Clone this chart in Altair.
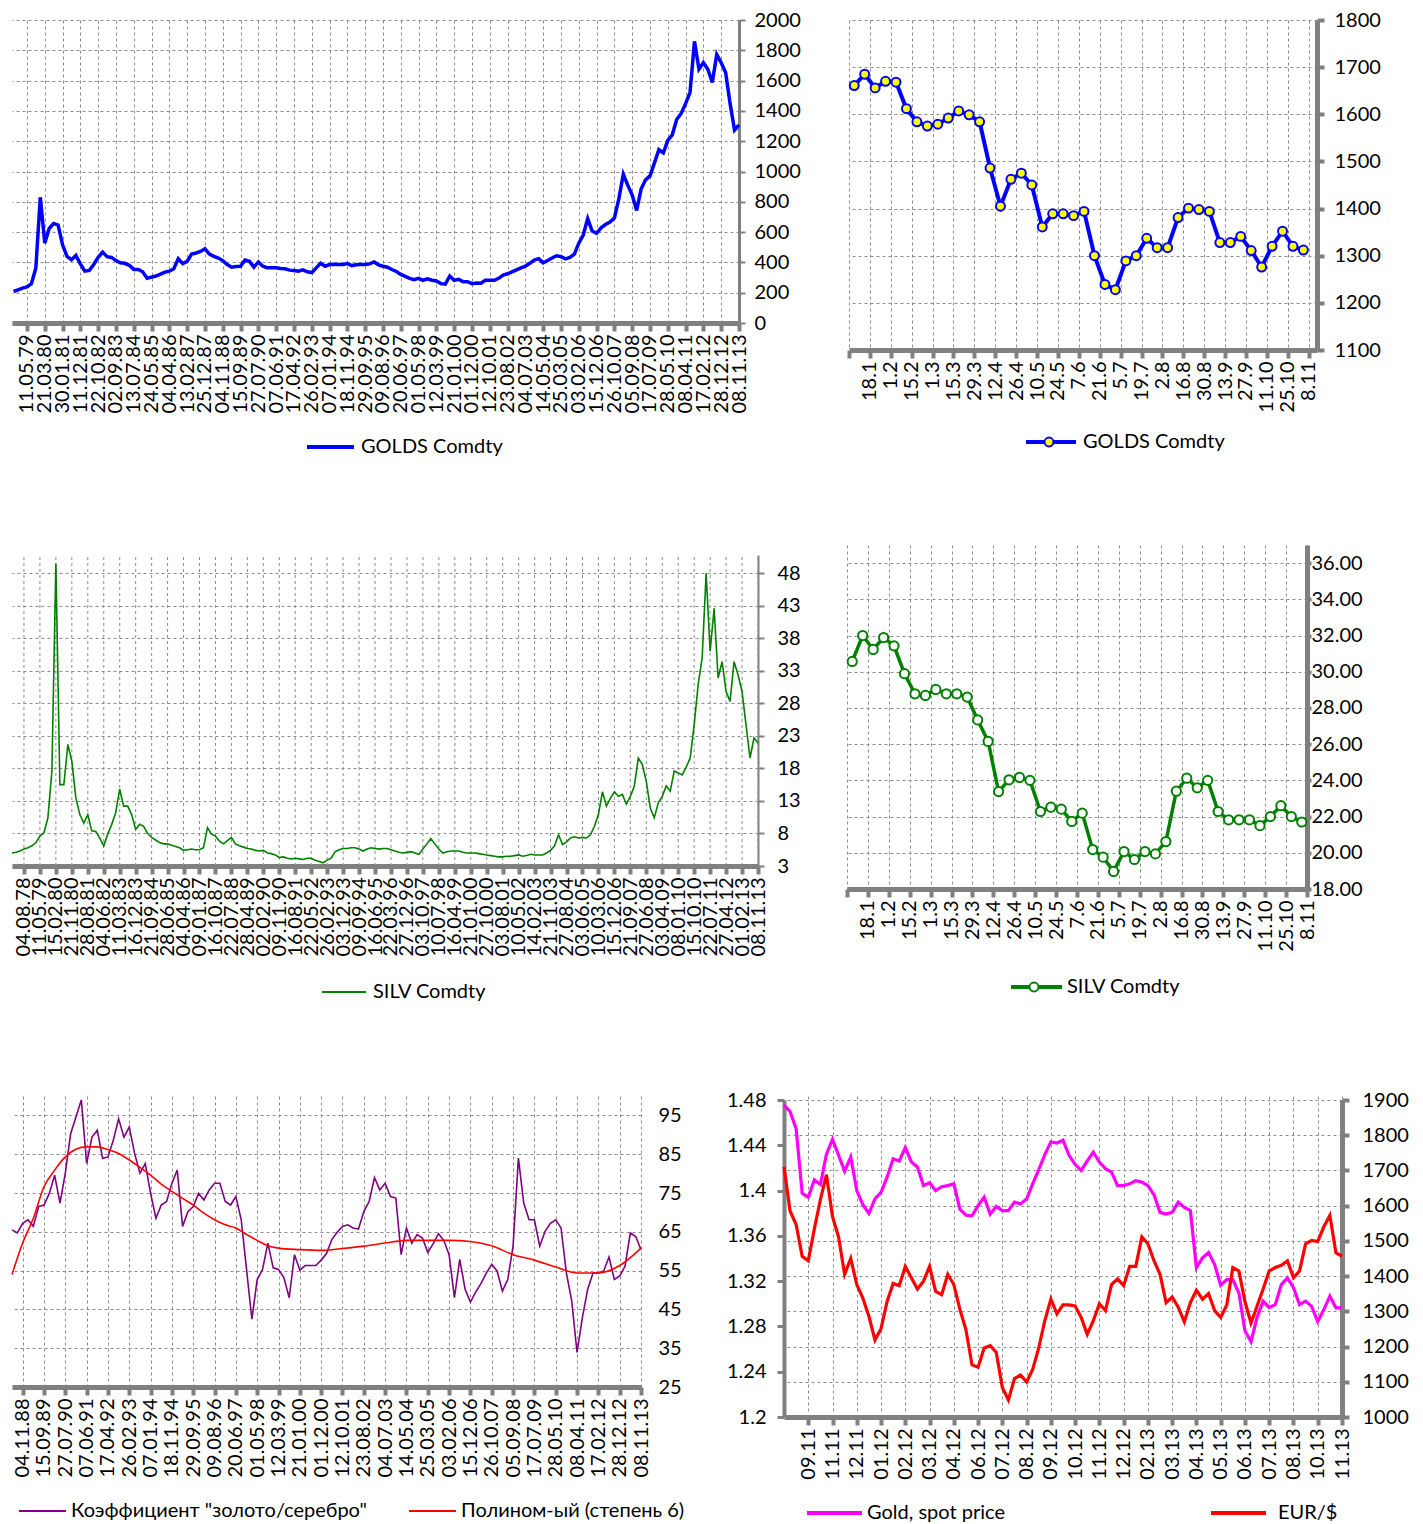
import json
import altair as alt
import numpy as np
import pandas as pd

FONT = "Lato"
AXIS_GRAY = "#808080"
GRID_GRAY = "#8c8c8c"
FS = 20

# ------------------------------------------------------------------ data
GOLD_LABELS = ["11.05.79", "21.03.80", "30.01.81", "11.12.81", "22.10.82", "02.09.83", "13.07.84",
               "24.05.85", "04.04.86", "13.02.87", "25.12.87", "04.11.88", "15.09.89", "27.07.90",
               "07.06.91", "17.04.92", "26.02.93", "07.01.94", "18.11.94", "29.09.95", "09.08.96",
               "20.06.97", "01.05.98", "12.03.99", "21.01.00", "01.12.00", "12.10.01", "23.08.02",
               "04.07.03", "14.05.04", "25.03.05", "03.02.06", "15.12.06", "26.10.07", "05.09.08",
               "17.07.09", "28.05.10", "08.04.11", "17.02.12", "28.12.12", "08.11.13"]
GOLD_START, GOLD_STEP = -0.75, 0.25
GOLD_VALUES = [208, 219, 230, 238, 260, 364, 830, 527, 624, 657, 646, 516, 440, 418, 446, 390, 342, 347,
               386, 433, 468, 438, 433, 412, 397, 394, 381, 353, 353, 338, 295, 303, 310, 323, 336, 342,
               358, 425, 392, 407, 455, 462, 472, 490, 455, 440, 429, 412, 386, 368, 373, 375, 416, 407,
               368, 403, 375, 364, 364, 364, 360, 358, 349, 347, 342, 351, 338, 332, 364, 394, 375, 386,
               388, 386, 386, 392, 379, 384, 386, 386, 390, 403, 384, 375, 368, 353, 340, 321, 308, 295,
               286, 295, 282, 292, 282, 277, 260, 256, 310, 282, 288, 273, 273, 260, 264, 262, 282, 282,
               282, 295, 316, 325, 338, 351, 364, 375, 394, 416, 425, 397, 412, 429, 444, 438, 423, 433,
               455, 527, 581, 689, 607, 592, 628, 650, 667, 693, 819, 982, 910, 845, 743, 884, 945, 971,
               1057, 1144, 1122, 1205, 1242, 1343, 1383, 1448, 1523, 1859, 1675, 1718, 1675, 1588, 1773,
               1718, 1653, 1448, 1274, 1307]

WEEK_LABELS = ["18.1", "1.2", "15.2", "1.3", "15.3", "29.3", "12.4", "26.4", "10.5", "24.5", "7.6",
               "21.6", "5.7", "19.7", "2.8", "16.8", "30.8", "13.9", "27.9", "11.10", "25.10", "8.11"]
GOLD_2013 = [1661, 1685, 1656, 1670, 1668, 1612, 1584, 1575, 1579, 1592, 1607, 1599, 1584, 1486, 1405,
             1462, 1475, 1450, 1361, 1389, 1389, 1385, 1394, 1300, 1239, 1228, 1289, 1300, 1337, 1317,
             1317, 1381, 1401, 1398, 1394, 1328, 1328, 1341, 1311, 1276, 1320, 1352, 1320, 1312]
SILV_2013 = [30.57, 32.0, 31.23, 31.89, 31.43, 29.89, 28.78, 28.69, 29.02, 28.78, 28.78, 28.60, 27.34,
             26.15, 23.38, 24.03, 24.16, 24.0, 22.28, 22.52, 22.41, 21.73, 22.19, 20.18, 19.76, 18.97,
             20.07, 19.63, 20.07, 19.94, 20.62, 23.40, 24.12, 23.59, 24.0, 22.28, 21.82, 21.82, 21.82,
             21.5, 22.0, 22.6, 22.0, 21.7]

SILV_LABELS = ["04.08.78", "11.05.79", "15.02.80", "21.11.80", "28.08.81", "04.06.82", "11.03.83",
               "16.12.83", "21.09.84", "28.06.85", "04.04.86", "09.01.87", "16.10.87", "22.07.88",
               "28.04.89", "02.02.90", "09.11.90", "16.08.91", "22.05.92", "26.02.93", "03.12.93",
               "09.09.94", "16.06.95", "22.03.96", "27.12.96", "03.10.97", "10.07.98", "16.04.99",
               "21.01.00", "27.10.00", "03.08.01", "10.05.02", "14.02.03", "21.11.03", "27.08.04",
               "03.06.05", "10.03.06", "15.12.06", "21.09.07", "27.06.08", "03.04.09", "08.01.10",
               "15.10.10", "22.07.11", "27.04.12", "01.02.13", "08.11.13"]
SILV_START, SILV_STEP = -0.75, 0.25
SILV_VALUES = [5.0, 5.1, 5.3, 5.6, 5.8, 6.1, 6.6, 7.6, 8.1, 10.4, 17.6, 49.5, 15.5, 15.5, 21.7, 19.1,
               13.5, 10.9, 9.6, 10.9, 8.4, 8.3, 7.3, 6.1, 7.9, 9.4, 11.2, 14.8, 12.2, 12.2, 10.9, 8.6,
               9.4, 9.1, 8.0, 7.4, 7.0, 6.6, 6.4, 6.4, 6.2, 6.0, 5.8, 5.4, 5.5, 5.6, 5.5, 5.5, 5.8, 8.9,
               7.9, 7.6, 6.8, 6.4, 6.9, 7.4, 6.4, 6.1, 5.9, 5.7, 5.6, 5.4, 5.3, 5.4, 5.0, 4.9, 4.7, 4.3,
               4.4, 4.2, 4.1, 4.2, 4.1, 4.0, 4.2, 4.2, 3.9, 3.7, 3.5, 3.9, 4.2, 5.2, 5.5, 5.7, 5.7, 5.8,
               5.8, 5.6, 5.3, 5.6, 5.8, 5.7, 5.6, 5.7, 5.7, 5.5, 5.3, 5.1, 5.0, 5.1, 5.2, 5.0, 4.8, 5.6,
               6.4, 7.2, 6.4, 5.6, 5.0, 5.2, 5.3, 5.3, 5.3, 5.1, 5.0, 5.0, 5.0, 4.9, 4.8, 4.7, 4.6, 4.5,
               4.4, 4.4, 4.5, 4.5, 4.6, 4.7, 4.5, 4.6, 4.8, 4.7, 4.7, 4.7, 5.0, 5.4, 6.1, 7.8, 6.3, 6.7,
               7.3, 7.5, 7.3, 7.4, 7.3, 7.8, 9.1, 10.9, 14.4, 12.2, 13.4, 14.4, 13.7, 14.0, 12.5, 13.7,
               15.3, 19.6, 18.6, 16.0, 11.9, 10.4, 12.7, 13.7, 15.3, 14.5, 17.6, 17.3, 17.0, 18.2, 19.6,
               24.7, 30.9, 35.0, 48.0, 36.0, 42.6, 31.9, 34.4, 29.8, 28.3, 34.4, 32.4, 29.8, 24.7, 19.6,
               22.7, 21.9]

RATIO_LABELS = ["04.11.88", "15.09.89", "27.07.90", "07.06.91", "17.04.92", "26.02.93", "07.01.94",
                "18.11.94", "29.09.95", "09.08.96", "20.06.97", "01.05.98", "12.03.99", "21.01.00",
                "01.12.00", "12.10.01", "23.08.02", "04.07.03", "14.05.04", "25.03.05", "03.02.06",
                "15.12.06", "26.10.07", "05.09.08", "17.07.09", "28.05.10", "08.04.11", "17.02.12",
                "28.12.12", "08.11.13"]
RATIO_START, RATIO_STEP = -0.5, 0.25
RATIO_VALUES = [65.5, 64.7, 67.2, 68.1, 66.4, 71.5, 71.9, 74.9, 79.6, 72.4, 80.1, 90.3, 94.6, 99.0,
                82.6, 89.4, 91.2, 83.9, 84.3, 88.6, 94.1, 89.4, 92.0, 85.2, 80.1, 82.6, 74.9, 68.5,
                71.9, 72.8, 77.5, 80.9, 66.4, 70.2, 71.5, 74.9, 73.2, 75.8, 77.5, 77.5, 72.8, 71.9,
                74.1, 68.1, 55.3, 42.5, 52.7, 55.3, 62.1, 55.7, 55.3, 53.2, 48.0, 59.1, 55.1, 56.3,
                56.3, 56.3, 57.7, 59.4, 63.0, 64.9, 66.4, 66.8, 66.0, 65.7, 70.2, 72.8, 79.0, 75.8,
                77.5, 74.1, 73.7, 59.1, 66.0, 62.1, 64.3, 63.4, 59.7, 61.9, 64.5, 62.8, 59.1, 48.0,
                57.9, 50.2, 46.9, 49.5, 51.7, 54.4, 56.6, 54.9, 49.7, 52.7, 61.3, 84.0, 72.4, 68.1,
                68.1, 61.3, 65.1, 67.2, 68.1, 66.0, 54.4, 47.2, 33.9, 42.9, 50.2, 54.4, 54.4, 54.9,
                58.5, 52.7, 53.6, 56.1, 64.7, 63.8, 60.4]
TREND_X = [-0.5, 0, 0.5, 1, 1.5, 2, 2.5, 3, 3.5, 4, 4.5, 5, 5.5, 6, 6.5, 7, 7.5, 8, 8.5, 9, 9.5, 10,
           10.5, 11, 11.5, 12, 13, 14, 15, 16, 17, 18, 19, 20, 21, 22, 23, 24, 25, 26, 27, 28, 29]
TREND_Y = [54.0, 62.1, 68.5, 76.6, 80.9, 84.3, 86.3, 86.9, 86.9, 86.2, 85.2, 83.5, 81.6, 79.6, 77.3,
           75.4, 73.6, 71.9, 69.8, 68.1, 66.8, 66.0, 64.3, 62.8, 61.4, 60.8, 60.4, 60.2, 60.7, 61.3,
           62.1, 62.8, 62.8, 62.8, 62.5, 61.4, 59.1, 57.7, 55.9, 54.4, 54.4, 56.3, 60.8]

FX_LABELS = ["09.11", "11.11", "12.11", "01.12", "02.12", "03.12", "04.12", "06.12", "07.12", "08.12",
             "09.12", "10.12", "11.12", "12.12", "02.13", "03.13", "04.13", "05.13", "06.13", "07.13",
             "08.13", "10.13", "11.13"]
FX_START, FX_STEP = -1.0, 0.25
GOLD_SPOT = [1886, 1867, 1819, 1635, 1624, 1673, 1660, 1746, 1788, 1743,
             1698, 1738, 1643, 1603, 1578, 1619, 1638, 1681, 1733, 1727,
             1765, 1724, 1710, 1657, 1665, 1643, 1654, 1657, 1662, 1590,
             1573, 1571, 1600, 1624, 1576, 1598, 1586, 1586, 1610, 1605,
             1619, 1662, 1702, 1745, 1781, 1778, 1786, 1743, 1717, 1700,
             1727, 1752, 1724, 1705, 1695, 1657, 1657, 1662, 1671, 1667,
             1657, 1631, 1581, 1576, 1581, 1610, 1595, 1586, 1424, 1452,
             1467, 1433, 1374, 1390, 1390, 1352, 1245, 1214, 1283, 1329,
             1311, 1319, 1376, 1395, 1367, 1319, 1329, 1314, 1271, 1305,
             1343, 1310, 1310]
EURUSD = [1.421, 1.382, 1.370, 1.342, 1.338, 1.366, 1.392, 1.414, 1.377, 1.359,
          1.326, 1.340, 1.317, 1.305, 1.289, 1.268, 1.278, 1.302, 1.318, 1.316,
          1.333, 1.323, 1.313, 1.320, 1.333, 1.311, 1.308, 1.326, 1.317, 1.295,
          1.277, 1.246, 1.244, 1.261, 1.263, 1.257, 1.226, 1.215, 1.234, 1.237,
          1.231, 1.242, 1.261, 1.285, 1.304, 1.291, 1.299, 1.299, 1.298, 1.288,
          1.273, 1.285, 1.300, 1.294, 1.317, 1.322, 1.316, 1.333, 1.333, 1.359,
          1.353, 1.338, 1.326, 1.301, 1.306, 1.297, 1.284, 1.301, 1.312, 1.304,
          1.309, 1.294, 1.288, 1.299, 1.332, 1.329, 1.302, 1.283, 1.298, 1.313,
          1.329, 1.332, 1.334, 1.338, 1.323, 1.329, 1.353, 1.356, 1.355, 1.368,
          1.378, 1.345, 1.342]

LEG_GOLD = ["GOLDS Comdty"]
LEG_SILV = ["SILV Comdty"]
LEG_RATIO = ['Коэффициент "золото/серебро"', "Полином-ый (степень 6)"]
LEG_FX = ["Gold, spot price", "EUR/$"]


def series(start, step, values):
    return pd.DataFrame({"x": start + step * np.arange(len(values)), "y": values})


# ------------------------------------------------------------------ helpers
def bottom_axis(values, expr, grid=True):
    return alt.Axis(values=values, labelExpr=expr, labelAngle=270, labelFont=FONT, labelFontSize=FS,
                    labelColor="black", labelOverlap=False, labelBound=False, labelFlush=False,
                    labelPadding=3, domainColor=AXIS_GRAY, domainWidth=5, tickColor=AXIS_GRAY,
                    tickWidth=4, tickSize=8, grid=grid, gridColor=GRID_GRAY, gridDash=[3, 3],
                    gridWidth=1, title=None)


def side_axis(orient, values, fmt, domain_w, tick_size, pad, grid=True, domain=True, ticks=True):
    kw = dict(orient=orient, values=values, format=fmt, labelFont=FONT, labelFontSize=FS,
              labelColor="black", labelOverlap=False, labelFlush=False, labelBound=False,
              labelPadding=pad, domain=domain, ticks=ticks, grid=grid, title=None)
    if domain:
        kw.update(domainColor=AXIS_GRAY, domainWidth=domain_w)
    if ticks:
        kw.update(tickColor=AXIS_GRAY, tickWidth=max(domain_w - 1, 2), tickSize=tick_size)
    if grid:
        kw.update(gridColor=GRID_GRAY, gridDash=[3, 3], gridWidth=1)
    return alt.Axis(**kw)


def idx_expr(labels):
    return f"{json.dumps(labels, ensure_ascii=False)}[datum.value]"


def legend_line(x1, x2, y, color, width):
    return alt.Chart(pd.DataFrame({"k": [0]})).mark_rule(color=color, strokeWidth=width).encode(
        x=alt.value(x1), x2=alt.value(x2), y=alt.value(y))


def legend_dot(x, y, fill, stroke):
    return alt.Chart(pd.DataFrame({"k": [0]})).mark_point(
        shape="circle", filled=True, fill=fill, stroke=stroke, strokeWidth=2, size=80, opacity=1
    ).encode(x=alt.value(x), y=alt.value(y))


def legend_text(x, y, text):
    return alt.Chart(pd.DataFrame({"t": [text]})).mark_text(
        align="left", baseline="middle", font=FONT, fontSize=FS, color="black"
    ).encode(x=alt.value(x), y=alt.value(y), text="t:N")


def q(dom, rng=None):
    if rng is None:
        return alt.Scale(domain=dom, nice=False, zero=False)
    return alt.Scale(domain=dom, range=rng, nice=False, zero=False)


# ------------------------------------------------------------------ panel 1: gold history
W1, H1 = 727, 303
p1_x = alt.X("x:Q", scale=q([-0.84, 40]),
             axis=bottom_axis(list(range(len(GOLD_LABELS))), idx_expr(GOLD_LABELS)))
p1_y = alt.Y("y:Q", scale=q([0, 2000]),
             axis=side_axis("right", list(range(0, 2001, 200)), "d", 3, 6, 9))
p1_line = alt.Chart(series(GOLD_START, GOLD_STEP, GOLD_VALUES)).mark_line(
    color="#0000FF", strokeWidth=3.5).encode(x=p1_x, y=p1_y)
p1 = alt.layer(p1_line,
               legend_line(295, 342, 427, "#0000FF", 4),
               legend_text(349, 427, LEG_GOLD[0])).properties(width=W1, height=H1)

# ------------------------------------------------------------------ panel 2: gold 2013 weekly
W2, H2 = 468, 330
wk_ticks = [2 * m - 0.5 for m in range(len(WEEK_LABELS) + 1)]
wk_expr = f"datum.value < 0 ? '' : {json.dumps(WEEK_LABELS)}[(datum.value + 0.5) / 2 - 1]"
g13 = pd.DataFrame({"x": np.arange(len(GOLD_2013)), "y": GOLD_2013})
p2_x = alt.X("x:Q", scale=q([-0.5, 44.3]), axis=bottom_axis(wk_ticks, wk_expr))
p2_y = alt.Y("y:Q", scale=q([1100, 1800]),
             axis=side_axis("right", list(range(1100, 1801, 100)), "d", 5, 7, 10))
p2_line = alt.Chart(g13).mark_line(color="#0000FF", strokeWidth=4).encode(x=p2_x, y=p2_y)
p2_pts = alt.Chart(g13).mark_point(shape="circle", filled=True, fill="#FFFF00", stroke="#0000FF",
                                   strokeWidth=2, size=80, opacity=1).encode(x=p2_x, y=p2_y)
p2 = alt.layer(p2_line, p2_pts,
               legend_line(177, 227, 422, "#0000FF", 4),
               legend_dot(200, 422, "#FFFF00", "#0000FF"),
               legend_text(234, 422, LEG_GOLD[0])).properties(width=W2, height=H2)

# ------------------------------------------------------------------ panel 3: silver history
W3, H3 = 746, 321
SILV_TOP = 50.8
p3_x = alt.X("x:Q", scale=q([-0.75, 46]),
             axis=bottom_axis(list(range(len(SILV_LABELS))), idx_expr(SILV_LABELS), grid=False))
p3_axis_y = side_axis("right", list(range(3, 49, 5)), "d", 2, 6, 13)
p3_scale_y = q([3, SILV_TOP], [H3, 10])
grid_df = pd.DataFrame({"x": np.arange(len(SILV_LABELS)), "lo": 3.0, "hi": SILV_TOP})
p3_grid = alt.Chart(grid_df).mark_rule(color=GRID_GRAY, strokeWidth=1, strokeDash=[3, 3]).encode(
    x=p3_x, y=alt.Y("lo:Q", scale=p3_scale_y, axis=p3_axis_y), y2="hi:Q")
p3_line = alt.Chart(series(SILV_START, SILV_STEP, SILV_VALUES)).mark_line(
    color="#008000", strokeWidth=1.6).encode(
    x=p3_x, y=alt.Y("y:Q", scale=p3_scale_y, axis=p3_axis_y))
p3 = alt.layer(p3_grid, p3_line,
               legend_line(310, 354, 447, "#008000", 2),
               legend_text(361, 447, LEG_SILV[0])).properties(width=W3, height=H3)

# ------------------------------------------------------------------ panel 4: silver 2013 weekly
W4, H4 = 460, 344
s13 = pd.DataFrame({"x": np.arange(len(SILV_2013)), "y": SILV_2013})
p4_x = alt.X("x:Q", scale=q([-0.5, 43.5]), axis=bottom_axis(wk_ticks, wk_expr))
p4_y = alt.Y("y:Q", scale=q([18, 37]),
             axis=side_axis("right", list(range(18, 37, 2)), ".2f", 5, 4, 0))
p4_line = alt.Chart(s13).mark_line(color="#008000", strokeWidth=3.5).encode(x=p4_x, y=p4_y)
p4_pts = alt.Chart(s13).mark_point(shape="circle", filled=True, fill="white", stroke="#008000",
                                   strokeWidth=2, size=85, opacity=1).encode(x=p4_x, y=p4_y)
p4 = alt.layer(p4_line, p4_pts,
               legend_line(164, 215, 442, "#008000", 4),
               legend_dot(187, 442, "white", "#008000"),
               legend_text(220, 442, LEG_SILV[0])).properties(width=W4, height=H4)

# ------------------------------------------------------------------ panel 5: gold/silver ratio
W5, H5 = 629, 291
p5_x = alt.X("x:Q", scale=q([-0.5, 29]),
             axis=bottom_axis(list(range(len(RATIO_LABELS))), idx_expr(RATIO_LABELS)))
p5_y = alt.Y("y:Q", scale=q([25, 100]),
             axis=side_axis("right", list(range(25, 96, 10)), "d", 0, 0, 17, domain=False,
                            ticks=False))
p5_line = alt.Chart(series(RATIO_START, RATIO_STEP, RATIO_VALUES)).mark_line(
    color="#800080", strokeWidth=1.6).encode(x=p5_x, y=p5_y)
p5_trend = alt.Chart(pd.DataFrame({"x": TREND_X, "y": TREND_Y})).mark_line(
    color="#FF0000", strokeWidth=1.6, interpolate="monotone").encode(x=p5_x, y=p5_y)
p5 = alt.layer(p5_line, p5_trend,
               legend_line(7, 54, 415, "#800080", 2),
               legend_text(59, 415, LEG_RATIO[0]),
               legend_line(397, 444, 415, "#FF0000", 2),
               legend_text(449, 415, LEG_RATIO[1])).properties(width=W5, height=H5)

# ------------------------------------------------------------------ panel 6: gold spot vs EUR/USD
W6, H6 = 558, 321
fx = pd.DataFrame({"x": FX_START + FX_STEP * np.arange(len(GOLD_SPOT)), "gold": GOLD_SPOT,
                   "eur": EURUSD})
p6_x = alt.X("x:Q", scale=q([-1, 22]),
             axis=bottom_axis(list(range(len(FX_LABELS))), idx_expr(FX_LABELS)))
p6_gold = alt.Chart(fx).mark_line(color="#FF00FF", strokeWidth=3.2).encode(
    x=p6_x,
    y=alt.Y("gold:Q", scale=q([1000, 1900], [H6, 4]),
            axis=side_axis("right", list(range(1000, 1901, 100)), "d", 5, 7, 13)))
p6_eur = alt.Chart(fx).mark_line(color="#FF0000", strokeWidth=3.2).encode(
    x=p6_x,
    y=alt.Y("eur:Q", scale=q([1.2, 1.48], [H6, 4]),
            axis=side_axis("left", [1.2, 1.24, 1.28, 1.32, 1.36, 1.4, 1.44, 1.48], "~g", 4, 7, 11,
                           grid=False)))
p6 = alt.layer(p6_gold, p6_eur,
               legend_line(23, 78, 417, "#FF00FF", 4),
               legend_text(83, 417, LEG_FX[0]),
               legend_line(427, 482, 417, "#FF0000", 4),
               legend_text(494, 417, LEG_FX[1])).resolve_scale(y="independent").properties(
    width=W6, height=H6)

# ------------------------------------------------------------------ layout
row1 = alt.hconcat(p1, p2, spacing=110, bounds="flush")
row2 = alt.hconcat(p3, p4, spacing=89, bounds="flush")
row3 = alt.hconcat(p5, p6, spacing=143, bounds="flush")

chart = alt.vconcat(row1, row2, row3, spacing=88).properties(
    padding={"left": -2, "top": 2, "right": 0, "bottom": 0},
    background="white",
).configure_view(stroke=None)

chart.save("out.html", embed_options={"renderer": "svg", "actions": False})
